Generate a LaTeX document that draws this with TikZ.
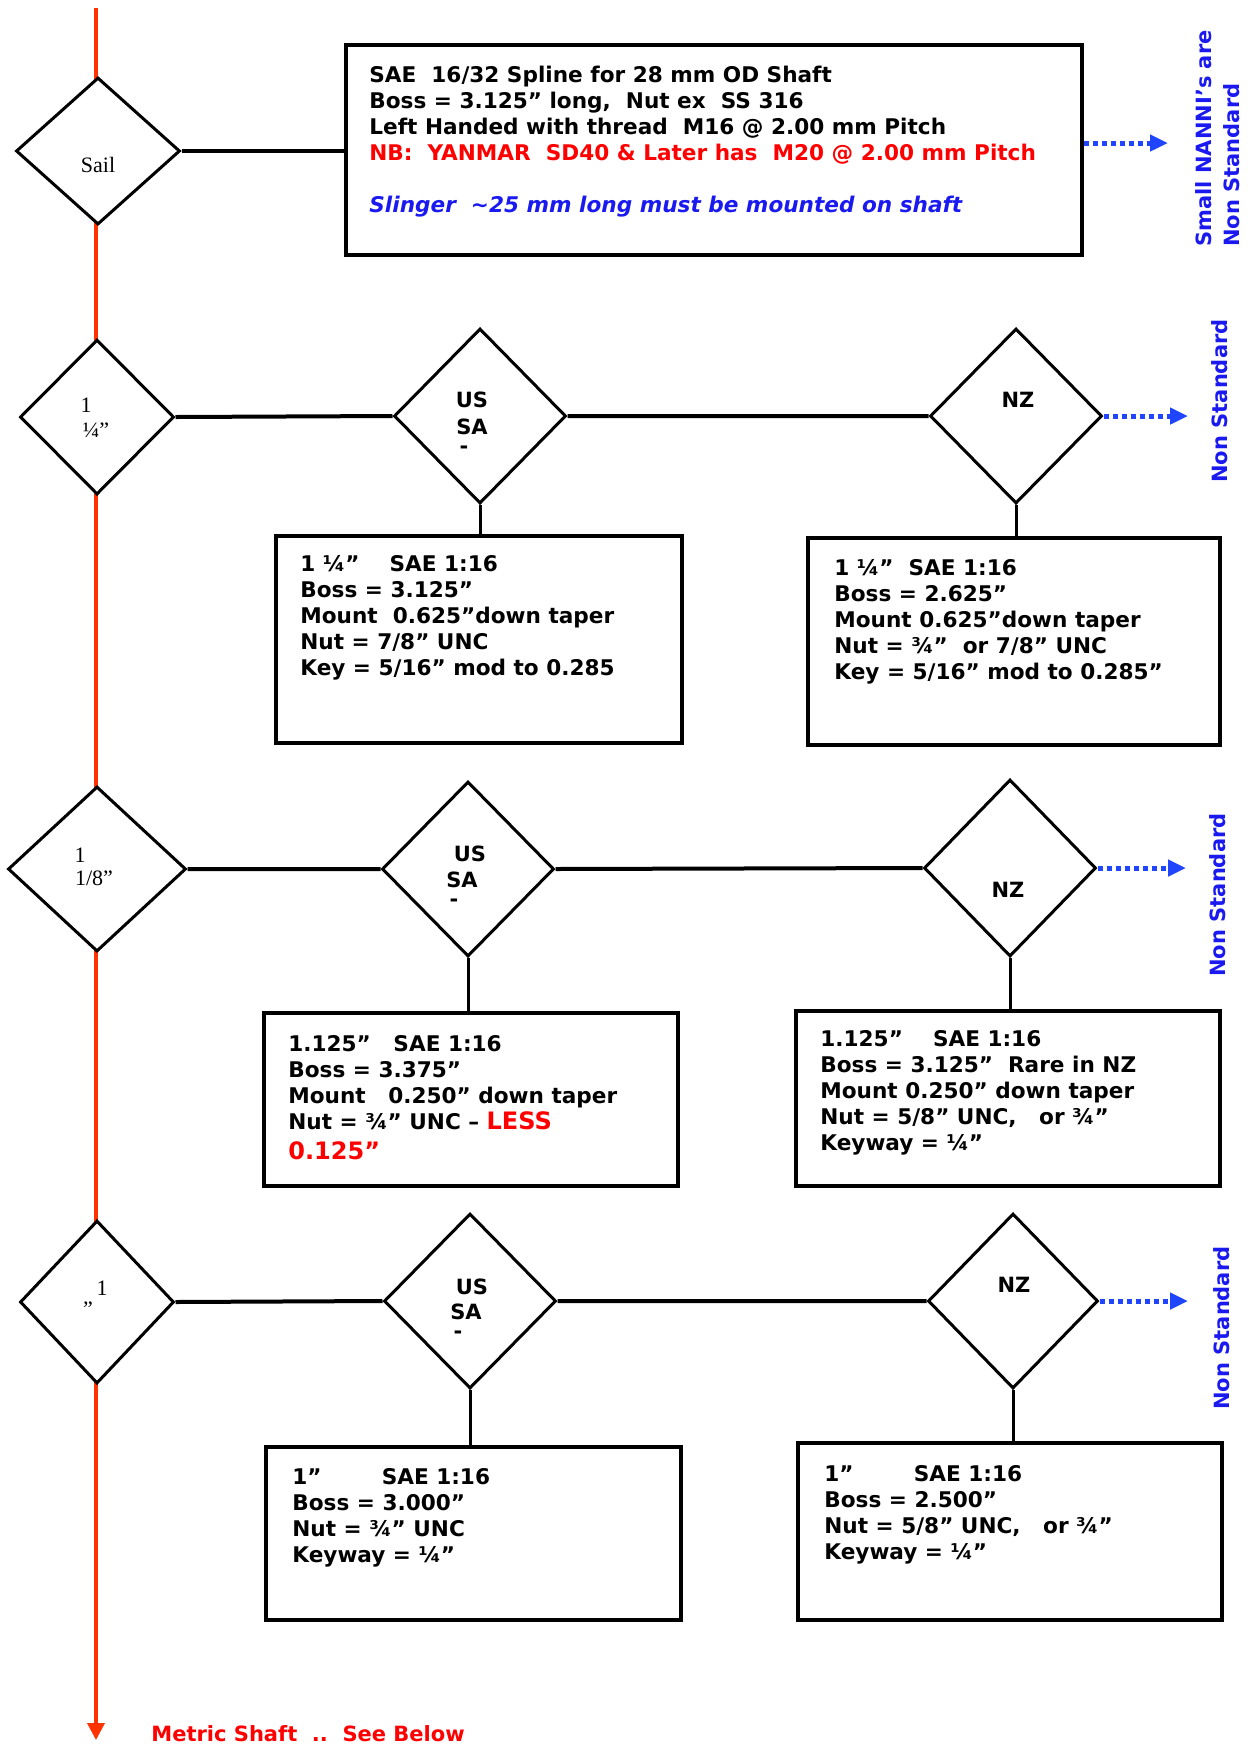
\documentclass[tikz,border=0pt]{standalone}
\usepackage{fontspec}
\usepackage{tikz}
\usetikzlibrary{shapes.geometric,arrows.meta}
\newfontfamily\specfont{DejaVu Sans}
\newfontfamily\tagfont{Liberation Serif}
\definecolor{shaft-red}{HTML}{FF3300}
\definecolor{nb-red}{HTML}{FF0000}
\definecolor{note-blue}{HTML}{1A1AF0}
\definecolor{arrow-blue}{HTML}{1F45FF}

\tikzset{
  gate/.style={draw, diamond, fill=white, line width=1.5pt, inner sep=0pt, minimum width=86pt, minimum height=87.5pt},
  spec/.style={draw, rectangle, line width=2pt, inner sep=0pt},
  spectext/.style={anchor=north west, inner sep=0pt, align=left, font=\specfont\bfseries\fontsize{10.8}{13}\selectfont},
  gatetext/.style={inner sep=0pt, font=\specfont\bfseries\fontsize{10.5}{12}\selectfont},
  sizetext/.style={inner sep=0pt, font=\tagfont\fontsize{11}{12}\selectfont},
  link/.style={line width=2pt},
  drop/.style={line width=1.5pt},
  nonstd/.style={rotate=90, inner sep=0pt, text=note-blue, font=\specfont\bfseries\fontsize{10.5}{14}\selectfont},
  outarrow/.style={arrow-blue, line width=2.5pt, dash pattern=on 2.5pt off 2pt, -{Triangle[length=9pt,width=8pt]}}
}

\begin{document}
\begin{tikzpicture}[x=0.5pt,y=-0.5pt]
\useasboundingbox (0,0) rectangle (1248,1747);

% shaft
\coordinate (shaft-top) at (96,8);
\coordinate (shaft-end) at (96,1740);
\draw[shaft-red, line width=1.8pt, -{Triangle[length=8.5pt,width=8.5pt]}] (shaft-top) -- (shaft-end);

% diamonds
\node[gate, minimum width=82pt, minimum height=73.5pt] (sail) at (98,151) {};
\node[gate, minimum width=77pt, minimum height=77.5pt] (d114) at (97,417) {};
\node[gate] (us114) at (480,416) {};
\node[gate] (nz114) at (1016,416) {};
\node[gate, minimum width=89pt, minimum height=82.5pt] (d118) at (97,869) {};
\node[gate] (us118) at (468,869) {};
\node[gate, minimum height=88.5pt] (nz118) at (1010,868) {};
\node[gate, minimum width=77pt, minimum height=81.5pt] (d1) at (97,1302) {};
\node[gate] (us1) at (470,1301) {};
\node[gate, minimum width=85pt] (nz1) at (1013,1301) {};

% boxes
\node[spec, minimum width=368pt, minimum height=105pt] (sail-box) at (714,150) {};
\node[spec, minimum width=203pt, minimum height=103.5pt] (us114-box) at (479,639.5) {};
\node[spec, minimum width=206pt, minimum height=103.5pt] (nz114-box) at (1014,641.5) {};
\node[spec, minimum width=207pt, minimum height=86.5pt] (us118-box) at (471,1099.5) {};
\node[spec, minimum width=212pt, minimum height=87.5pt] (nz118-box) at (1008,1098.5) {};
\node[spec, minimum width=207.5pt, minimum height=86.5pt] (us1-box) at (473.5,1533.5) {};
\node[spec, minimum width=212pt, minimum height=88.5pt] (nz1-box) at (1010,1531.5) {};

% connectors
\draw[link] (sail.east) -- (sail.east -| sail-box.west);
\foreach \d/\u/\n in {d114/us114/nz114, d118/us118/nz118, d1/us1/nz1}
  {\draw[link] (\d.east) -- (\u.west) (\u.east) -- (\n.west);
   \draw[drop] (\u.south) -- (\u.south |- \u-box.north);
   \draw[drop] (\n.south) -- (\n.south |- \n-box.north);}

% non standard arrows
\coordinate (sail-out) at (1168,143);
\coordinate (nz114-out) at (1188,416);
\coordinate (nz118-out) at (1186,868);
\coordinate (nz1-out) at (1188,1301);
\draw[outarrow] (sail-box.east |- sail-out) -- (sail-out);
\foreach \n in {nz114,nz118,nz1}
  \draw[outarrow] (\n.east) -- (\n-out);

% diamond labels
\node[sizetext] (sail-tag) at (98,165) {Sail};
\node[sizetext] (d114-a) at (86,405) {1};
\node[sizetext] (d114-b) at (96,430) {¼”};
\node[sizetext] (d118-a) at (80,855) {1};
\node[sizetext] (d118-b) at (94,878) {1/8”};
\node[sizetext] (d1-a) at (102,1288) {1};
\node[sizetext] (d1-b) at (88,1309) {”};

\node[gatetext] (us114-a) at (472,400) {US};
\node[gatetext] (us114-b) at (472,427) {SA};
\node[gatetext] (us114-c) at (464,450) {-};
\node[gatetext] (us118-a) at (470,854) {US};
\node[gatetext] (us118-b) at (462,880) {SA};
\node[gatetext] (us118-c) at (454,903) {-};
\node[gatetext] (us1-a) at (472,1287) {US};
\node[gatetext] (us1-b) at (466,1312) {SA};
\node[gatetext] (us1-c) at (458,1335) {-};
\node[gatetext] (nz114-a) at (1018,400) {NZ};
\node[gatetext] (nz118-a) at (1008,890) {NZ};
\node[gatetext] (nz1-a) at (1014,1285) {NZ};

% box texts
\node[spectext] (sail-text) at (369,66) {SAE~~16/32 Spline for 28 mm OD Shaft\\
  Boss = 3.125” long,~~Nut ex~~SS 316\\
  Left Handed with thread~~M16 @ 2.00 mm Pitch\\
  \textcolor{nb-red}{NB:~~YANMAR~~SD40 \& Later has~~M20 @ 2.00 mm Pitch}\\[13pt]
  \textcolor{note-blue}{\itshape Slinger~~\textasciitilde25 mm long must be mounted on shaft}};
\node[spectext] (us114-text) at (300,555) {1 ¼”~~~~SAE 1:16\\
  Boss = 3.125”\\
  Mount~~0.625”down taper\\
  Nut = 7/8” UNC\\
  Key = 5/16” mod to 0.285};
\node[spectext] (nz114-text) at (834,559) {1 ¼”~~SAE 1:16\\
  Boss = 2.625”\\
  Mount 0.625”down taper\\
  Nut = ¾”~~or 7/8” UNC\\
  Key = 5/16” mod to 0.285”};
\node[spectext] (us118-text) at (288,1035) {1.125”~~~SAE 1:16\\
  Boss = 3.375”\\
  Mount~~~0.250” down taper\\
  Nut = ¾” UNC – \textcolor{nb-red}{\fontsize{12}{13}\selectfont LESS}\\[2pt]
  \textcolor{nb-red}{\fontsize{12}{13}\selectfont 0.125”}};
\node[spectext] (nz118-text) at (820,1030) {1.125”~~~~SAE 1:16\\
  Boss = 3.125”~~Rare in NZ\\
  Mount 0.250” down taper\\
  Nut = 5/8” UNC,~~~or ¾”\\
  Keyway = ¼”};
\node[spectext] (us1-text) at (292,1468) {1”~~~~~~~~SAE 1:16\\
  Boss = 3.000”\\
  Nut = ¾” UNC\\
  Keyway = ¼”};
\node[spectext] (nz1-text) at (824,1465) {1”~~~~~~~~SAE 1:16\\
  Boss = 2.500”\\
  Nut = 5/8” UNC,~~~or ¾”\\
  Keyway = ¼”};

% side notes
\node[nonstd, align=left, anchor=west] (nanni) at (1218,247) {Small NANNI’s are\\Non Standard};
\node[nonstd] (ns114) at (1220,401) {Non Standard};
\node[nonstd] (ns118) at (1218,895) {Non Standard};
\node[nonstd] (ns1) at (1222,1328) {Non Standard};

\node[anchor=west, inner sep=0pt, text=nb-red, font=\specfont\bfseries\fontsize{10.5}{12}\selectfont] (metric) at (151,1734) {Metric Shaft~~..~~See Below};
\end{tikzpicture}
\end{document}
